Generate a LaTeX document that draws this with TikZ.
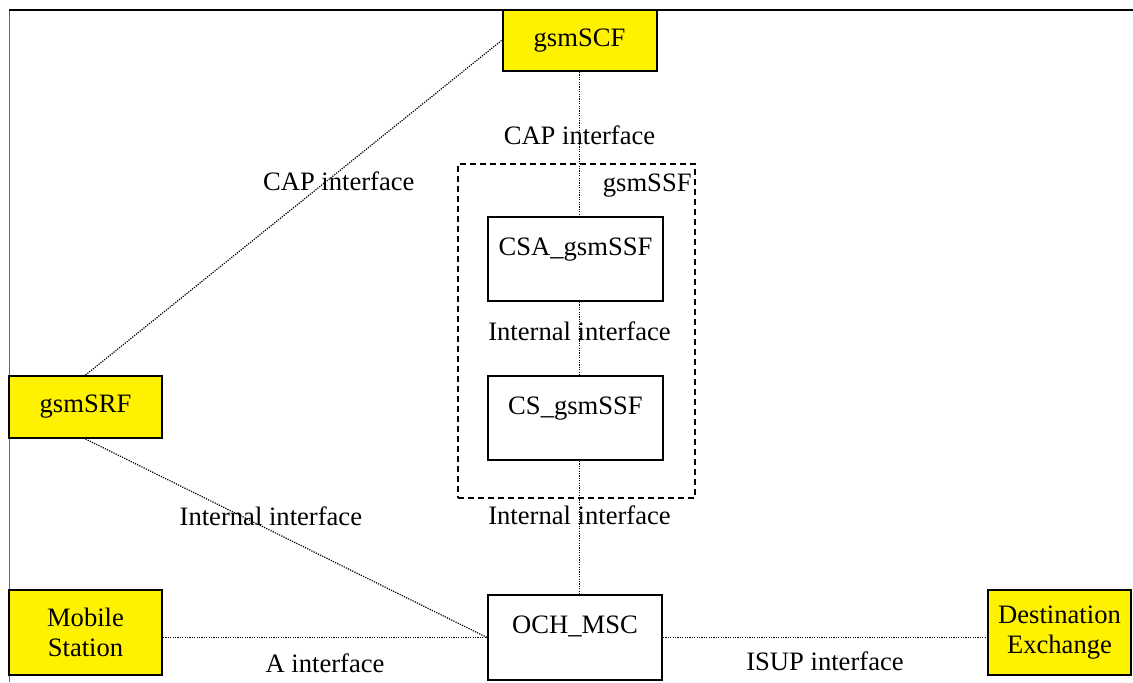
\documentclass[tikz,border=0pt]{standalone}
\usepackage{fontspec}
\setmainfont{Liberation Serif}
\begin{document}
\begin{tikzpicture}[x=0.5pt,y=-0.5pt]
\useasboundingbox (0,0) rectangle (1133,682);
\begin{scope}
	\tikzstyle{every node}=[font=\fontsize{13.3}{15}\selectfont, align=center]
	\tikzstyle{fbox}=[draw, line width=1pt, fill=yellow, inner sep=0pt]
	\tikzstyle{ibox}=[draw, line width=1pt, inner sep=0pt, minimum width=87.5pt, minimum height=42pt, text height=9pt, text depth=13pt]
	\tikzstyle{link}=[line width=0.6pt, dash pattern=on 0.6pt off 0.6pt]

	\draw [line width=0.5pt, black!60] (9,682) -- (9,10);
	\draw [line width=0.6pt] (9,10) -- (1133,10);

	\node[fbox, minimum width=77pt, minimum height=30.5pt] (scf) at (579.5,40.5) {gsmSCF};
	\node[draw, dash pattern=on 3pt off 2pt, line width=1pt, minimum width=118.5pt, minimum height=167pt] (ssf) at (576.5,331) {};
	\node[anchor=north east, inner sep=2pt] (ssflbl) at ([yshift=-3pt]ssf.north east) {gsmSSF};
	\node[ibox] (csa) at (575.5,259) {CSA\_gsmSSF};
	\node[ibox] (cs) at (575.5,418) {CS\_gsmSSF};
	\node[ibox, minimum width=87pt, minimum height=42.5pt] (och) at (575,637.5) {OCH\_MSC};
	\node[fbox, minimum width=76.5pt, minimum height=31pt] (srf) at (85.5,407) {gsmSRF};
	\node[fbox, minimum width=76.5pt, minimum height=42.5pt] (ms) at (85.5,632.5) {Mobile\\Station};
	\node[fbox, minimum width=71.5pt, minimum height=42.5pt] (dest) at (1059.5,632.5) {Destination\\Exchange};

	\draw [link] (scf.south) -- node[pos=0.44]{CAP interface} (scf.south |- csa.north);
	\draw [link] (csa.south -| scf.south) -- node[pos=0.4]{Internal interface} (cs.north -| scf.south);
	\draw [link] (cs.south -| scf.south) -- node[pos=0.41]{Internal interface} (och.north -| scf.south);
	\draw [link] (srf.north) -- node[pos=0.58, xshift=6pt]{CAP interface} (scf.west);
	\draw [link] (srf.south) -- node[pos=0.387, xshift=15pt]{Internal interface} (och.west);
	\draw [link] (och.west -| ms.east) -- node[yshift=-13pt]{A interface} (och.west);
	\draw [link] (och.east) -- node[yshift=-12pt]{ISUP interface} (och.east -| dest.west);
\end{scope}
\end{tikzpicture}
\end{document}
